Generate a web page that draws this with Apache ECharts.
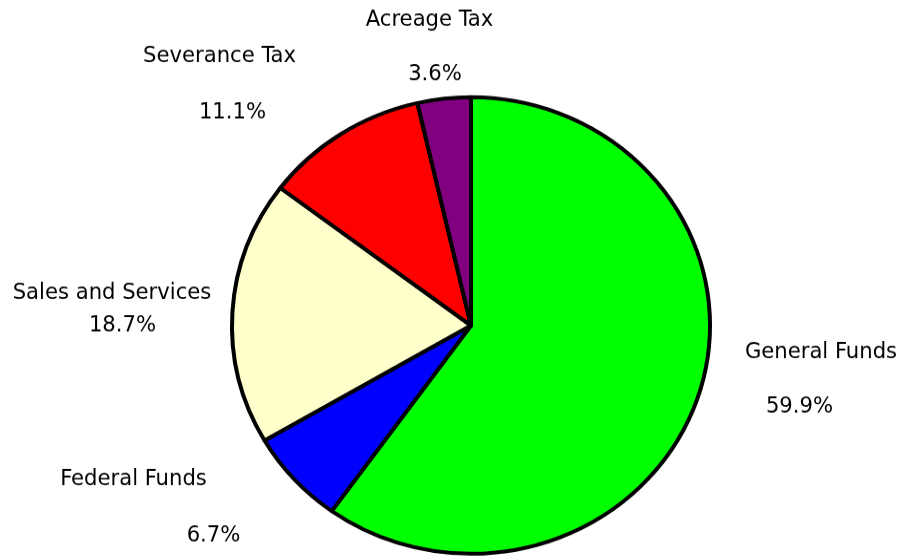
<!DOCTYPE html>
<html>
<head>
<meta charset="utf-8">
<script src="https://cdn.jsdelivr.net/npm/echarts@6/dist/echarts.min.js"></script>
<style>
  html, body { margin: 0; padding: 0; background: #fff; overflow: hidden; }
  #wrap { width: 905px; height: 560px; overflow: hidden; }
  #chart { width: 905px; transform-origin: 0 0; }
</style>
</head>
<body>
<div id="wrap"><div id="chart"></div></div>
<script>
// ---- data ----
const categories = ['General Funds', 'Federal Funds', 'Sales and Services', 'Severance Tax', 'Acreage Tax'];
const shares = [59.9, 6.7, 18.7, 11.1, 3.6];

// ---- styles / layout ----
const sliceColors = ['#00FF00', '#0000FF', '#FFFFCC', '#FF0000', '#800080'];
const SY = 0.955; // vertical squash: the reference pie is slightly elliptical
const PAGE_W = 905, PAGE_H = 560;
const nameAnchors = [[821, 352], [133.5, 479], [112, 293], [219.5, 56], [429.5, 20]];
const pctAnchors  = [[799.5, 407], [213.5, 536], [122.5, 326], [232.5, 113], [435, 74]];
const FONT = "'DejaVu Sans Condensed', 'DejaVu Sans', sans-serif";
const FONT_SIZE = 23.5;

const el = document.getElementById('chart');
el.style.height = (PAGE_H / SY) + 'px';
el.style.transform = 'scaleY(' + SY + ')';

const chart = echarts.init(el, null, { renderer: 'canvas' });

const pieData = categories.map((c, i) => ({
  name: c,
  value: shares[i],
  itemStyle: { color: sliceColors[i] }
}));

function anchorLayout(anchors) {
  return function (params) {
    const p = anchors[params.dataIndex];
    return { x: p[0], y: p[1] / SY, align: 'center', verticalAlign: 'middle' };
  };
}

const center = [471, 325.5 / SY];
const radius = 239;

const labelBase = {
  show: true,
  position: 'outside',
  color: '#000',
  fontFamily: FONT,
  fontSize: FONT_SIZE
};

chart.setOption({
  animation: false,
  backgroundColor: '#fff',
  series: [
    {
      type: 'pie',
      center: center,
      radius: radius,
      startAngle: 90,
      clockwise: true,
      avoidLabelOverlap: false,
      data: pieData,
      itemStyle: { borderColor: '#000', borderWidth: 4 },
      label: Object.assign({}, labelBase, { formatter: '{b}' }),
      labelLine: { show: false },
      labelLayout: anchorLayout(nameAnchors),
      emphasis: { disabled: true }
    },
    {
      type: 'pie',
      center: center,
      radius: radius,
      startAngle: 90,
      clockwise: true,
      avoidLabelOverlap: false,
      silent: true,
      data: pieData.map(d => ({ name: d.name, value: d.value, itemStyle: { color: 'rgba(0,0,0,0)', borderWidth: 0 } })),
      label: Object.assign({}, labelBase, {
        formatter: p => p.value.toFixed(1) + '%'
      }),
      labelLine: { show: false },
      labelLayout: anchorLayout(pctAnchors),
      emphasis: { disabled: true }
    }
  ]
});
</script>
</body>
</html>
